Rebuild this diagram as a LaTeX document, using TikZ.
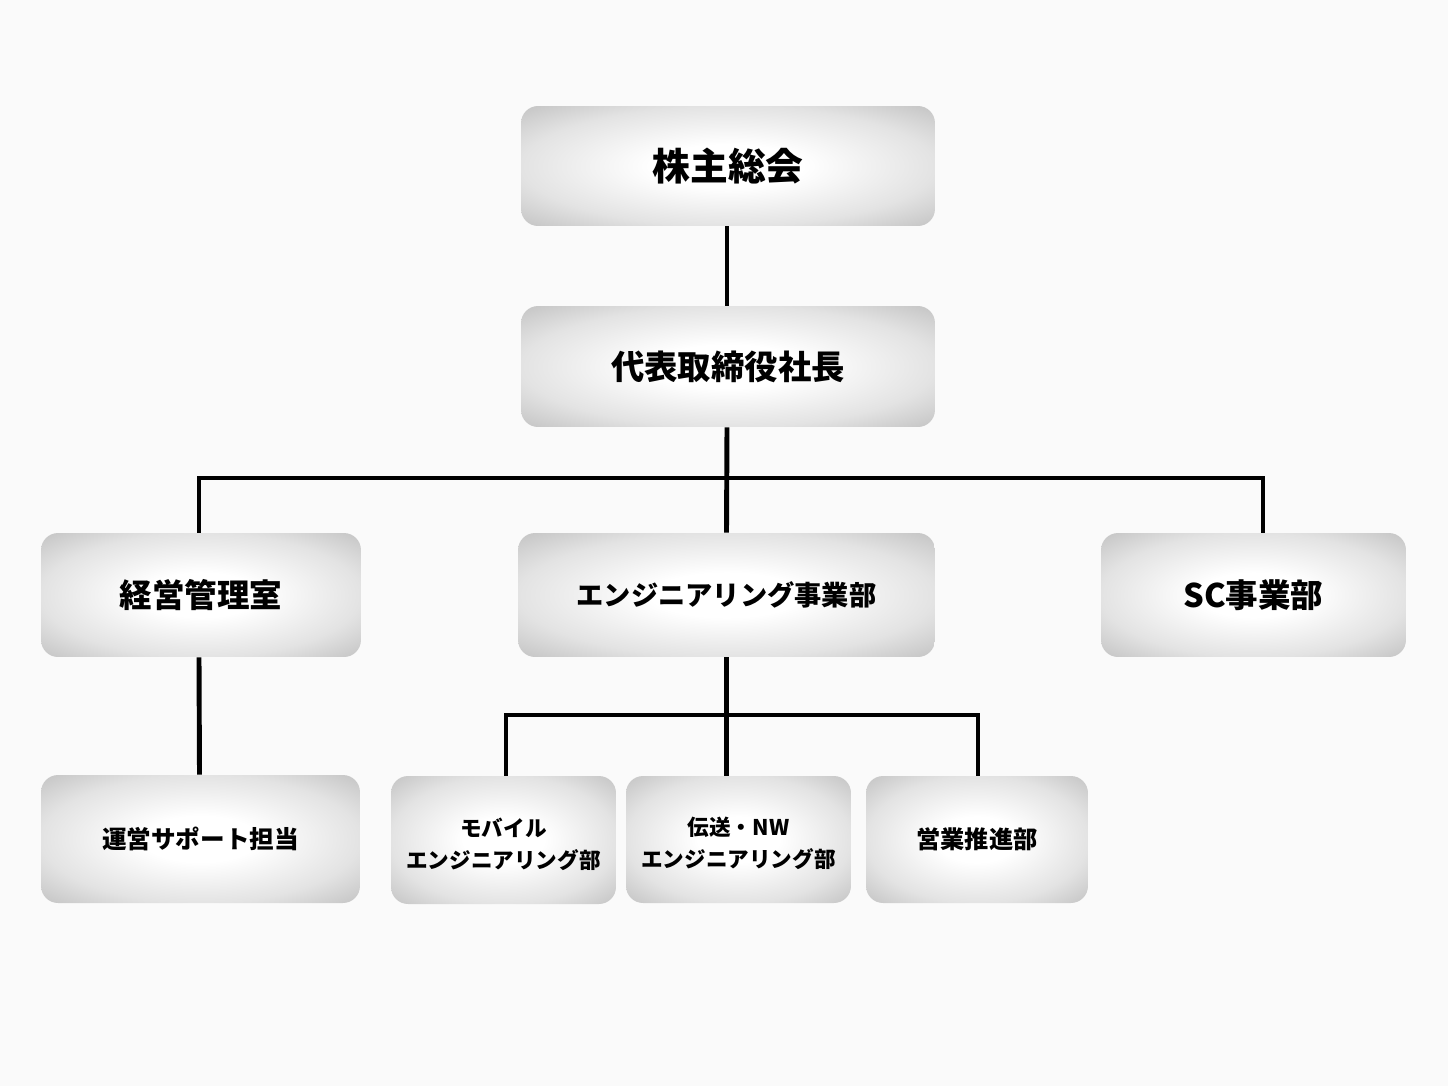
\documentclass[tikz,border=0pt]{standalone}
\usepackage{fontspec}
\newfontfamily\jp{Noto Sans CJK JP}
\pgfdeclareradialshading{boxshade}{\pgfpoint{0bp}{0bp}}{color(0bp)=(white); color(9bp)=(white); color(25bp)=(black!11); color(36bp)=(black!24); color(50bp)=(black!24)}
\newcommand{\twolines}[2]{\raisebox{-3.4pt}[\height][\depth]{\begin{tabular}{@{}c@{}}#1\\#2\end{tabular}}}
\begin{document}
\begin{tikzpicture}[x=0.02cm,y=-0.02cm,
  box/.style={rounded corners=0.34cm, shading=boxshade,
    inner sep=0pt, align=center, font=\jp\bfseries},
  conn/.style={line width=2.8pt, black}]
\useasboundingbox[fill=black!2] (0,0) rectangle (1448,1086);
% boxes
\node[box, minimum width=8.28cm, minimum height=2.4cm, font=\jp\bfseries\fontsize{21.5}{26}\selectfont] (top) at (728,166) {株主総会};
\node[box, minimum width=8.28cm, minimum height=2.42cm, font=\jp\bfseries\fontsize{19}{23}\selectfont] (ceo) at (728,366.5) {代表取締役社長};
\node[box, minimum width=6.4cm, minimum height=2.48cm, font=\jp\bfseries\fontsize{18.5}{22}\selectfont] (keiei) at (201,595) {経営管理室};
\node[box, minimum width=8.34cm, minimum height=2.48cm, font=\jp\bfseries\fontsize{15.5}{19}\selectfont] (eng) at (726.5,595) {エンジニアリング事業部};
\node[box, minimum width=6.1cm, minimum height=2.48cm, font=\jp\bfseries\fontsize{18.5}{22}\selectfont] (sc) at (1253.5,595) {SC事業部};
\node[box, minimum width=6.38cm, minimum height=2.56cm, font=\jp\bfseries\fontsize{14}{17}\selectfont] (unei) at (200.5,839) {運営サポート担当};
\node[box, minimum width=4.5cm, minimum height=2.56cm, font=\jp\bfseries\fontsize{12.3}{18}\selectfont] (mobile) at (503.5,840) {\twolines{モバイル}{エンジニアリング部}};
\node[box, minimum width=4.5cm, minimum height=2.54cm, font=\jp\bfseries\fontsize{12.3}{18}\selectfont] (densou) at (738.5,839.5) {\twolines{伝送・NW}{エンジニアリング部}};
\node[box, minimum width=4.44cm, minimum height=2.54cm, font=\jp\bfseries\fontsize{13.8}{17}\selectfont] (eigyo) at (977,839.5) {営業推進部};
% connectors
\coordinate (bus1) at (727,478);
\coordinate (bus2) at (727,715);
\draw[conn] ([xshift=-0.02cm]top.south) -- ([xshift=-0.02cm]ceo.north);
\draw[conn] ([xshift=-0.02cm]ceo.south) -- (eng.north);
\draw[conn] ([xshift=-0.04cm]keiei.north) |- (bus1) -| ([xshift=0.19cm]sc.north);
\draw[conn] ([xshift=-0.04cm]keiei.south) -- ([xshift=-0.02cm]unei.north);
\draw[conn] (eng.south) -- (eng.south |- densou.north);
\draw[conn] ([xshift=0.05cm]mobile.north) |- (bus2) -| ([xshift=0.02cm]eigyo.north);
\end{tikzpicture}
\end{document}
